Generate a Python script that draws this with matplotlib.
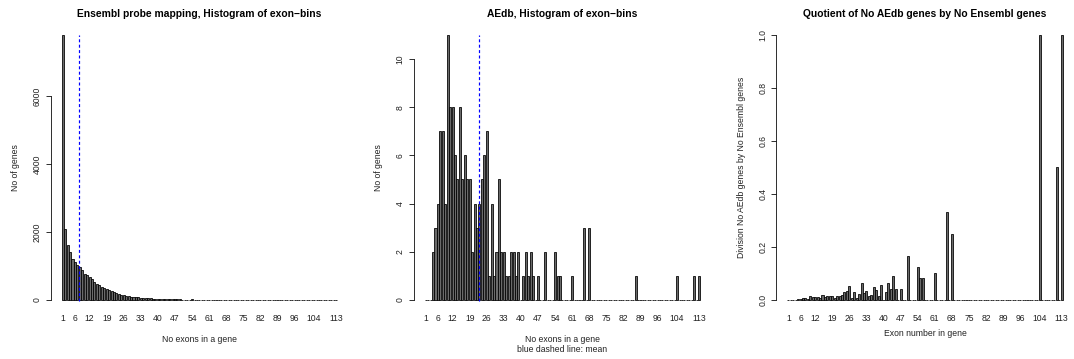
import numpy as np
import matplotlib.pyplot as plt

plt.rcParams['font.family'] = ['Liberation Sans', 'DejaVu Sans']

# exon-bin categories (number of exons in a gene)
exon_bins = np.arange(1, 114)

ensembl_genes = [
    7800, 2100, 1630, 1400, 1200, 1110, 1030, 980, 880, 760,
    735, 690, 610, 540, 470, 440, 390, 345, 315, 285,
    255, 225, 200, 175, 150, 135, 120, 110, 100, 92,
    80, 74, 67, 60, 55, 45, 50, 42, 36, 35,
    33, 31, 25, 22, 25, 20, 25, 18, 16, 12,
    14, 12, 11, 16, 12, 12, 9, 10, 8, 9,
    10, 7, 8, 6, 7, 9, 6, 12, 5, 6,
    4, 5, 4, 5, 3, 4, 3, 4, 3, 2,
    3, 2, 3, 2, 3, 2, 2, 2, 1, 2,
    1, 2, 1, 1, 2, 1, 1, 1, 2, 1,
    1, 1, 1, 1, 1, 1, 1, 1, 1, 1,
    2, 1, 1,
]

aedb_genes = [
    0, 0, 0, 2, 3, 4, 7, 7, 4, 11,
    8, 8, 6, 5, 8, 5, 6, 5, 5, 2,
    4, 3, 4, 5, 6, 7, 1, 4, 1, 2,
    5, 2, 2, 1, 1, 2, 2, 1, 2, 0,
    1, 2, 1, 2, 1, 0, 1, 0, 0, 2,
    0, 0, 0, 2, 1, 1, 0, 0, 0, 0,
    1, 0, 0, 0, 0, 3, 0, 3, 0, 0,
    0, 0, 0, 0, 0, 0, 0, 0, 0, 0,
    0, 0, 0, 0, 0, 0, 1, 0, 0, 0,
    0, 0, 0, 0, 0, 0, 0, 0, 0, 0,
    0, 0, 0, 1, 0, 0, 0, 0, 0, 0,
    1, 0, 1,
]

quotient = [
    0, 0, 0, 0.0015, 0.0025, 0.0036, 0.0068, 0.0071, 0.0045, 0.0145,
    0.0109, 0.0116, 0.0098, 0.0093, 0.017, 0.0114, 0.0154, 0.0145, 0.0159, 0.007,
    0.0157, 0.0133, 0.02, 0.0286, 0.035, 0.054, 0.006, 0.029, 0.008, 0.023,
    0.065, 0.025, 0.033, 0.016, 0.018, 0.05, 0.038, 0.016, 0.058, 0,
    0.03, 0.065, 0.04, 0.092, 0.04, 0, 0.04, 0, 0, 0.167,
    0, 0, 0, 0.125, 0.083, 0.083, 0, 0, 0, 0,
    0.1, 0, 0, 0, 0, 0.333, 0, 0.25, 0, 0,
    0, 0, 0, 0, 0, 0, 0, 0, 0, 0,
    0, 0, 0, 0, 0, 0, 0, 0, 0, 0,
    0, 0, 0, 0, 0, 0, 0, 0, 0, 0,
    0, 0, 0, 1.0, 0, 0, 0, 0, 0, 0,
    0.5, 0, 1.0,
]

shown_labels = [1, 6, 12, 19, 26, 33, 40, 47, 54, 61, 68, 75, 82, 89, 96, 104, 113]
ensembl_mean = 7.67
aedb_mean = 22.95

W, H = 1074, 359
fig = plt.figure(figsize=(W / 72, H / 72), dpi=72)

n = len(exon_bins)
centers = 0.7 + 1.2 * np.arange(n)   # barplot spacing, space = 0.2
lo, hi = 0.2, 1.2 * n
d = hi - lo

ax_w, ax_h = 297.4, 286.3
ax_bottom = 310.6
fs = 8.6


def panel(left_px, heights, title, xlab_lines, ylab, yticks, ylabels, mean=None):
    ax = fig.add_axes([left_px / W, (H - ax_bottom) / H, ax_w / W, ax_h / H])
    ax.bar(centers, heights, width=1.0, color='#6a6a6a', edgecolor='black', linewidth=0.8)
    ymax = max(heights)
    ax.set_xlim(lo - 0.04 * d, hi + 0.04 * d)
    ax.set_ylim(-0.04 * ymax, 1.04 * ymax)

    if mean is not None:
        xm = np.interp(mean, exon_bins, centers)
        ax.plot([xm, xm], [-0.005 * ymax, ymax], color='blue', lw=1.2, ls=(0, (2.5, 2)))

    idx = [list(exon_bins).index(v) for v in shown_labels]
    ax.set_xticks(centers[idx])
    ax.set_xticklabels([str(v) for v in shown_labels], fontsize=fs, color='#222222')
    ax.tick_params(axis='x', length=0, pad=3)

    ax.set_yticks(yticks)
    ax.set_yticklabels(ylabels, rotation=90, va='center', fontsize=fs, color='#222222')
    ax.tick_params(axis='y', length=5, width=0.8, pad=4)

    for s in ['top', 'right', 'bottom']:
        ax.spines[s].set_visible(False)
    ax.spines['left'].set_bounds(yticks[0], yticks[-1])
    ax.spines['left'].set_linewidth(0.8)

    ax.text(0.5, 1 + 10.3 / ax_h, title, transform=ax.transAxes, ha='center', va='center',
            fontsize=10.2, fontweight='bold')
    for text, off in xlab_lines:
        ax.text(0.5, -off / ax_h, text, transform=ax.transAxes, ha='center', va='center',
                fontsize=fs, color='#222222')
    ax.text(-35.2 / ax_w, 0.5, ylab, transform=ax.transAxes, ha='center', va='center',
            rotation=90, fontsize=fs, color='#222222')
    return ax


panel(50.7, ensembl_genes, 'Ensembl probe mapping, Histogram of exon\u2212bins',
      [('No exons in a gene', 29.4)], 'No of genes',
      [0, 2000, 4000, 6000], ['0', '2000', '4000', '6000'], mean=ensembl_mean)

panel(413.7, aedb_genes, 'AEdb, Histogram of exon\u2212bins',
      [('No exons in a gene', 29.4), ('blue dashed line: mean', 39.4)], 'No of genes',
      [0, 2, 4, 6, 8, 10], ['0', '2', '4', '6', '8', '10'], mean=aedb_mean)

panel(776.3, quotient, 'Quotient of No AEdb genes by No Ensembl genes',
      [('Exon number in gene', 22.4)], 'Division No AEdb genes by No Ensembl genes',
      [0, 0.2, 0.4, 0.6, 0.8, 1.0], ['0.0', '0.2', '0.4', '0.6', '0.8', '1.0'])

fig.savefig('out.png', dpi=72)
